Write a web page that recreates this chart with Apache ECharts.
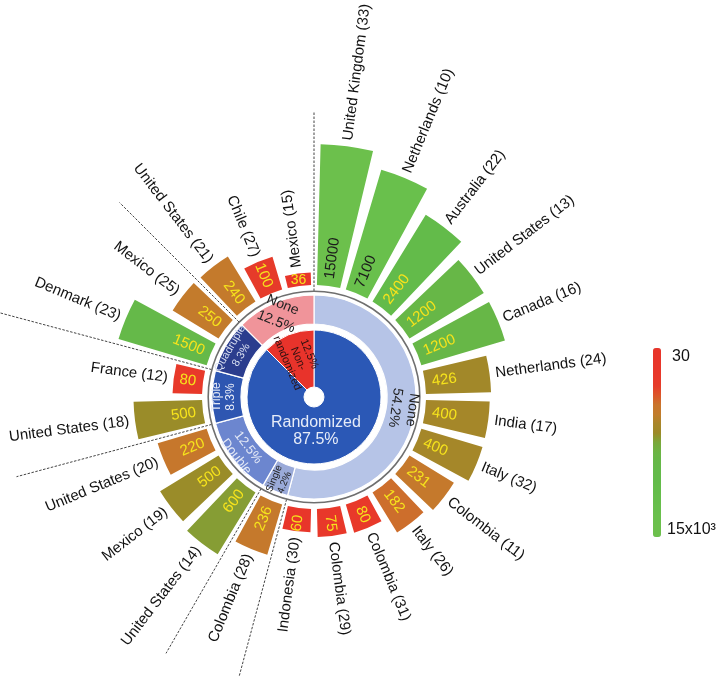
<!DOCTYPE html>
<html><head><meta charset="utf-8">
<script src="https://cdn.jsdelivr.net/npm/echarts@6/dist/echarts.min.js"></script>
<style>html,body{margin:0;padding:0;background:#fff}#c{width:717px;height:677px}</style>
</head><body><div id="c"></div>
<script>
// ---------------- data ----------------
const countries = ['United Kingdom (33)','Netherlands (10)','Australia (22)','United States (13)','Canada (16)','Netherlands (24)','India (17)','Italy (32)','Colombia (11)','Italy (26)','Colombia (31)','Colombia (29)','Indonesia (30)','Colombia (28)','United States (14)','Mexico (19)','United States (20)','United States (18)','France (12)','Denmark (23)','Mexico (25)','United States (21)','Chile (27)','Mexico (15)'];
const sampleSizes = [15000,7100,2400,1200,1200,426,400,400,231,182,80,75,60,236,600,500,220,500,80,1500,250,240,100,36];
const blindingNames = ['None','Single','Double','Triple','Quadruple','None'];
const blindingCounts = [13,1,3,2,2,3];
const designNames = ['Randomized','Non-randomized'];
const designCounts = [21,3];
const colorRange = [30, 15000];
const legendLabels = ['30','15x10³'];

// ---------------- styles ----------------
const CX = 314, CY = 397;
const AXIS_MIN = 20, AXIS_MAX = 20000;
const BAR_R = [112, 259];
const BAR_FILL = 0.8;
const FONT = '"Liberation Sans", Arial, Helvetica, sans-serif';
const GRADIENT = ['#e8352a','#e8352a','#e8362a','#e8382a','#e63c2a','#dc562a','#c9742c','#c27c2c','#a9862a','#9c8a28','#7aa83a','#6cb444','#66b848','#64ba4a','#63bb4a','#64bd4a','#66be4b','#68bf4c','#6ac04c','#6cc04c','#6cc04c'];
const RING_COLORS = ['#b6c4e7','#9aaad9','#6c86cf','#2e56b1','#2b3d8e','#f0949a'];
const RING_LABELS = [
  {rotate:-97.5, formatter:'{b}\n{d}%', color:'#222', fontSize:14, lineHeight:17},
  {rotate:67.5, formatter:'{b}\n{d}%', color:'#222', fontSize:10, lineHeight:11},
  {rotate:-52.5, formatter:'{d}%\n{b}', color:'#e4e9f6', fontSize:13, lineHeight:15},
  {rotate:90, formatter:'{b}\n{d}%', color:'#e4e9f6', fontSize:12, lineHeight:14},
  {rotate:60, formatter:'{b}\n{d}%', color:'#d8def0', fontSize:11, lineHeight:13},
  {rotate:-22, formatter:'{b}\n{d}%', color:'#222', fontSize:14, lineHeight:18}
];
const DESIGN_COLORS = ['#2b58b6','#e8332b'];
const SEP_LEN = [285, 290, 296, 308, 340, 275];
const SEP_R0 = 106;

const barData = sampleSizes.map((v, i) => [v, i, Math.log10(v)]);
const boundaries = [];
{ let acc = 0; blindingCounts.forEach(c => { boundaries.push(acc); acc += c; }); }

function renderBar(params, api) {
  const v = api.value(0), idx = api.value(1);
  const cs = params.coordSys;
  const end = api.coord([v, idx]);
  const band = api.size([0, 1], [v, idx])[1];
  const a = end[3];
  const half = band * BAR_FILL / 2;
  const r0 = cs.r0, r = end[2];
  const cos = Math.cos(a), sin = Math.sin(a);
  const readOut = cos > (sin > 0 ? -0.2 : 0);
  const rot = readOut ? a : a - Math.PI;
  const children = [{
    type: 'sector',
    shape: {cx: cs.cx, cy: cs.cy, r0: r0, r: r, startAngle: -a - half, endAngle: -a + half, clockwise: true},
    style: {fill: api.visual('color')}
  }];
  const valColor = v >= 5000 ? '#1b1b1b' : '#f6e31c';
  if (r - r0 < 22) {
    const rm = (r + r0) / 2;
    children.push({type:'text', x: cs.cx + rm * cos, y: cs.cy - rm * sin,
      style:{text: String(v), fill: valColor, font: '14px ' + FONT, align:'center', verticalAlign:'middle'}});
  } else {
    const rv = r0 + 7;
    children.push({type:'text', x: cs.cx + rv * cos, y: cs.cy - rv * sin, rotation: rot,
      style:{text: String(v), fill: valColor, font: '15px ' + FONT, align: readOut ? 'left' : 'right', verticalAlign:'middle'}});
  }
  const rc = r + 6;
  children.push({type:'text', x: cs.cx + rc * cos, y: cs.cy - rc * sin, rotation: rot,
    style:{text: countries[idx], fill:'#111', font: '15px ' + FONT, align: readOut ? 'left' : 'right', verticalAlign:'middle'}});
  return {type:'group', children: children};
}

function renderSep(params, api) {
  const k = api.value(1);
  const cs = params.coordSys;
  const c = api.coord([AXIS_MIN, k]);
  const band = api.size([0, 1], [AXIS_MIN, k])[1];
  const a = c[3] + band / 2;
  const len = SEP_LEN[params.dataIndex];
  return {type:'line',
    shape:{x1: cs.cx + SEP_R0 * Math.cos(a), y1: cs.cy - SEP_R0 * Math.sin(a), x2: cs.cx + len * Math.cos(a), y2: cs.cy - len * Math.sin(a)},
    style:{stroke:'#444', lineWidth:1, lineDash:[2.5, 1.5]}};
}

const chart = echarts.init(document.getElementById('c'));
chart.setOption({
  animation: false,
  backgroundColor: '#fff',
  textStyle: {fontFamily: FONT},
  polar: {center: [CX, CY], radius: BAR_R},
  angleAxis: {type:'category', data: countries, startAngle: 90, clockwise: true, show: false},
  radiusAxis: {type:'log', min: AXIS_MIN, max: AXIS_MAX, show: false},
  visualMap: {
    type:'continuous', seriesIndex: 0, dimension: 2,
    min: Math.log10(colorRange[0]), max: Math.log10(colorRange[1]),
    inverse: true, calculable: false, hoverLink: false,
    orient:'vertical', left: 653, top: 348, itemWidth: 8, itemHeight: 189, padding: 0,
    inRange: {color: GRADIENT}
  },
  graphic: [
    {type:'text', x: 672, y: 357, style:{text: legendLabels[0], font:'16px ' + FONT, fill:'#111', verticalAlign:'middle'}},
    {type:'text', x: 667, y: 530, style:{text: legendLabels[1], font:'16px ' + FONT, fill:'#111', verticalAlign:'middle'}}
  ],
  series: [
    {type:'custom', coordinateSystem:'polar', data: barData, encode:{radius:0, angle:1}, renderItem: renderBar, silent: true, z: 3},
    {type:'custom', coordinateSystem:'polar', data: boundaries.map(k => [AXIS_MIN, k]), encode:{radius:0, angle:1}, renderItem: renderSep, silent: true, z: 1},
    {type:'pie', center:[CX, CY], radius:[10, 67], startAngle: 90, clockwise: true, percentPrecision: 1, silent: true,
      itemStyle:{borderColor:'#fff', borderWidth:1},
      labelLine:{show:false},
      label:{position:'inside'},
      labelLayout: p => p.dataIndex === 0 ? {dx: -14, dy: -4} : {},
      data: designNames.map((n, i) => ({name: n, value: designCounts[i], itemStyle:{color: DESIGN_COLORS[i]},
        label: i === 0
          ? {formatter:'{b}\n{d}%', color:'#e6ecf8', fontSize:16, lineHeight:17, rotate:0}
          : {formatter: '{d}%\n' + n.replace('-', '-\n'), color:'#2a1010', fontSize:11, lineHeight:12, rotate:-67.5}
      }))
    },
    {type:'pie', center:[CX, CY], radius:[73, 102], startAngle: 90, clockwise: true, percentPrecision: 1, silent: true,
      itemStyle:{borderColor:'#fff', borderWidth:1.2},
      labelLine:{show:false},
      label:{position:'inside'},
      labelLayout: {hideOverlap: false},
      data: blindingNames.map((n, i) => ({name: n, value: blindingCounts[i], itemStyle:{color: RING_COLORS[i]}, label: RING_LABELS[i]}))
    },
    {type:'pie', center:[CX, CY], radius:[105, 106.6], silent: true, label:{show:false}, labelLine:{show:false},
      itemStyle:{color:'#6f6f6f'}, data:[{value: 1, name: 'border'}]}
  ]
});
</script></body></html>
